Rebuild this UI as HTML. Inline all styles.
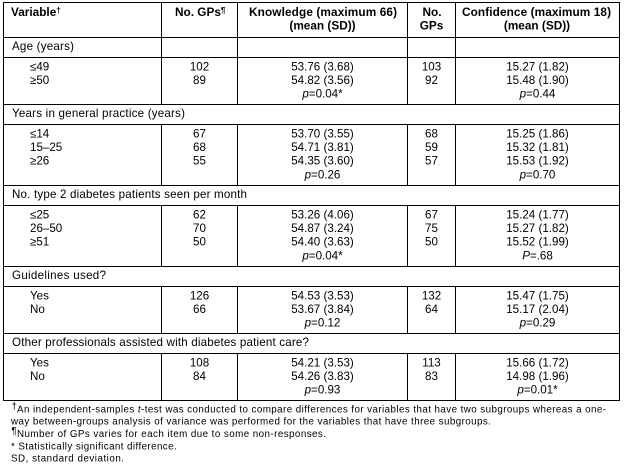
<!DOCTYPE html>
<html><head><meta charset="utf-8"><style>
html,body{margin:0;padding:0;background:#fff;}
svg{display:block;}
text{font-family:"Liberation Sans",Arial,sans-serif;fill:#000;}
.b{font-weight:bold;font-size:11.8px;}
.t{font-size:11.6px;}
.f{font-size:9.8px;}
.m{text-anchor:middle;}
</style></head><body>
<svg width="624" height="470" viewBox="0 0 624 470" xmlns="http://www.w3.org/2000/svg">
<rect width="624" height="470" fill="#fff"/>
<g stroke="#000" stroke-width="1" fill="none">
<line x1="3" y1="2.5" x2="620" y2="2.5"/>
<line x1="3" y1="37.5" x2="620" y2="37.5"/>
<line x1="3" y1="57.5" x2="620" y2="57.5"/>
<line x1="3" y1="104.5" x2="620" y2="104.5"/>
<line x1="3" y1="124.5" x2="620" y2="124.5"/>
<line x1="3" y1="185.5" x2="620" y2="185.5"/>
<line x1="3" y1="205.5" x2="620" y2="205.5"/>
<line x1="3" y1="266.5" x2="620" y2="266.5"/>
<line x1="3" y1="286.5" x2="620" y2="286.5"/>
<line x1="3" y1="333.5" x2="620" y2="333.5"/>
<line x1="3" y1="353.5" x2="620" y2="353.5"/>
<line x1="3" y1="400.5" x2="620" y2="400.5"/>
<line x1="3.5" y1="2" x2="3.5" y2="401"/>
<line x1="619.5" y1="2" x2="619.5" y2="401"/>
<path d="M161.5 2V105M237.5 2V105M407.5 2V105M455.5 2V105"/>
<path d="M161.5 124V186M237.5 124V186M407.5 124V186M455.5 124V186"/>
<path d="M161.5 205V267M237.5 205V267M407.5 205V267M455.5 205V267"/>
<path d="M161.5 286V334M237.5 286V334M407.5 286V334M455.5 286V334"/>
<path d="M161.5 353V401M237.5 353V401M407.5 353V401M455.5 353V401"/>
</g>

<!-- Header -->
<text class="b" x="11" y="16">Variable<tspan font-size="8" dy="-3">†</tspan></text>
<text class="b" x="175" y="16">No. GPs<tspan font-size="8" dy="-3">¶</tspan></text>
<text class="b" x="249" y="16" textLength="148">Knowledge (maximum 66)</text>
<text class="b m" x="322.5" y="29.7">(mean (SD))</text>
<text class="b m" x="432" y="16">No.</text>
<text class="b m" x="431.5" y="29.7">GPs</text>
<text class="b" x="462" y="16" textLength="149">Confidence (maximum 18)</text>
<text class="b m" x="537" y="29.7">(mean (SD))</text>

<!-- Age -->
<text class="t" x="12" y="50" textLength="62">Age (years)</text>
<text class="t" x="30" y="70.3">≤49</text>
<text class="t" x="30" y="84">≥50</text>
<text class="t m" x="199.5" y="70.3">102</text>
<text class="t m" x="199.5" y="84">89</text>
<text class="t m" x="322.5" y="70.3">53.76 (3.68)</text>
<text class="t m" x="322.5" y="84">54.82 (3.56)</text>
<text class="t m" x="322.5" y="97.7"><tspan font-style="italic">p</tspan>=0.04*</text>
<text class="t m" x="431.5" y="70.3">103</text>
<text class="t m" x="431.5" y="84">92</text>
<text class="t m" x="537.5" y="70.3">15.27 (1.82)</text>
<text class="t m" x="537.5" y="84">15.48 (1.90)</text>
<text class="t m" x="537.5" y="97.7"><tspan font-style="italic">p</tspan>=0.44</text>

<!-- Years -->
<text class="t" x="12" y="117" textLength="173">Years in general practice (years)</text>
<text class="t" x="30" y="137.3">≤14</text>
<text class="t" x="30" y="151">15–25</text>
<text class="t" x="30" y="164.7">≥26</text>
<text class="t m" x="199.5" y="137.3">67</text>
<text class="t m" x="199.5" y="151">68</text>
<text class="t m" x="199.5" y="164.7">55</text>
<text class="t m" x="322.5" y="137.3">53.70 (3.55)</text>
<text class="t m" x="322.5" y="151">54.71 (3.81)</text>
<text class="t m" x="322.5" y="164.7">54.35 (3.60)</text>
<text class="t m" x="322.5" y="178.4"><tspan font-style="italic">p</tspan>=0.26</text>
<text class="t m" x="431.5" y="137.3">68</text>
<text class="t m" x="431.5" y="151">59</text>
<text class="t m" x="431.5" y="164.7">57</text>
<text class="t m" x="537.5" y="137.3">15.25 (1.86)</text>
<text class="t m" x="537.5" y="151">15.32 (1.81)</text>
<text class="t m" x="537.5" y="164.7">15.53 (1.92)</text>
<text class="t m" x="537.5" y="178.4"><tspan font-style="italic">p</tspan>=0.70</text>

<!-- Diabetes -->
<text class="t" x="12" y="198" textLength="235">No. type 2 diabetes patients seen per month</text>
<text class="t" x="30" y="218.3">≤25</text>
<text class="t" x="30" y="232">26–50</text>
<text class="t" x="30" y="245.7">≥51</text>
<text class="t m" x="199.5" y="218.3">62</text>
<text class="t m" x="199.5" y="232">70</text>
<text class="t m" x="199.5" y="245.7">50</text>
<text class="t m" x="322.5" y="218.3">53.26 (4.06)</text>
<text class="t m" x="322.5" y="232">54.87 (3.24)</text>
<text class="t m" x="322.5" y="245.7">54.40 (3.63)</text>
<text class="t m" x="322.5" y="259.4"><tspan font-style="italic">p</tspan>=0.04*</text>
<text class="t m" x="431.5" y="218.3">67</text>
<text class="t m" x="431.5" y="232">75</text>
<text class="t m" x="431.5" y="245.7">50</text>
<text class="t m" x="537.5" y="218.3">15.24 (1.77)</text>
<text class="t m" x="537.5" y="232">15.27 (1.82)</text>
<text class="t m" x="537.5" y="245.7">15.52 (1.99)</text>
<text class="t m" x="537.5" y="259.4"><tspan font-style="italic">P</tspan>=.68</text>

<!-- Guidelines -->
<text class="t" x="12" y="279" textLength="94">Guidelines used?</text>
<text class="t" x="30" y="299.3">Yes</text>
<text class="t" x="30" y="313">No</text>
<text class="t m" x="199.5" y="299.3">126</text>
<text class="t m" x="199.5" y="313">66</text>
<text class="t m" x="322.5" y="299.3">54.53 (3.53)</text>
<text class="t m" x="322.5" y="313">53.67 (3.84)</text>
<text class="t m" x="322.5" y="326.7"><tspan font-style="italic">p</tspan>=0.12</text>
<text class="t m" x="431.5" y="299.3">132</text>
<text class="t m" x="431.5" y="313">64</text>
<text class="t m" x="537.5" y="299.3">15.47 (1.75)</text>
<text class="t m" x="537.5" y="313">15.17 (2.04)</text>
<text class="t m" x="537.5" y="326.7"><tspan font-style="italic">p</tspan>=0.29</text>

<!-- Other -->
<text class="t" x="12" y="346" textLength="297">Other professionals assisted with diabetes patient care?</text>
<text class="t" x="30" y="366.3">Yes</text>
<text class="t" x="30" y="380">No</text>
<text class="t m" x="199.5" y="366.3">108</text>
<text class="t m" x="199.5" y="380">84</text>
<text class="t m" x="322.5" y="366.3">54.21 (3.53)</text>
<text class="t m" x="322.5" y="380">54.26 (3.83)</text>
<text class="t m" x="322.5" y="393.7"><tspan font-style="italic">p</tspan>=0.93</text>
<text class="t m" x="431.5" y="366.3">113</text>
<text class="t m" x="431.5" y="380">83</text>
<text class="t m" x="537.5" y="366.3">15.66 (1.72)</text>
<text class="t m" x="537.5" y="380">14.98 (1.96)</text>
<text class="t m" x="537.5" y="393.7"><tspan font-style="italic">p</tspan>=0.01*</text>

<!-- Footnotes -->
<text class="f" x="11.5" y="409.5" font-size="7">†</text>
<text class="f" x="17" y="412.7" textLength="589">An independent-samples <tspan font-style="italic">t</tspan>-test was conducted to compare differences for variables that have two subgroups whereas a one-</text>
<text class="f" x="11" y="424.7" textLength="480">way between-groups analysis of variance was performed for the variables that have three subgroups.</text>
<text class="f" x="11.5" y="434" font-size="7">¶</text>
<text class="f" x="17" y="437" textLength="309">Number of GPs varies for each item due to some non-responses.</text>
<text class="f" x="11" y="449.3" textLength="165.7">* Statistically significant difference.</text>
<text class="f" x="11" y="461.5" textLength="113">SD, standard deviation.</text>
</svg>
</body></html>
